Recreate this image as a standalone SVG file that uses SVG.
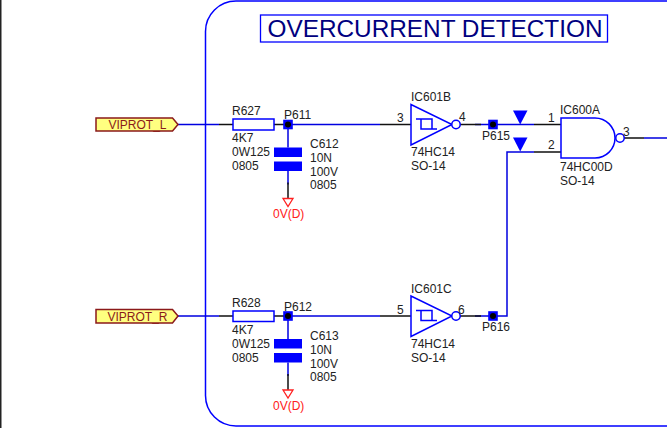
<svg xmlns="http://www.w3.org/2000/svg" width="667" height="428" viewBox="0 0 667 428">
<style>
text{font-family:"Liberation Sans",Arial,sans-serif;font-size:12px;fill:#222}
.w{fill:none;stroke:#0000e0;stroke-width:1.5}
.k{fill:none;stroke:#111;stroke-width:1.5}
.b{fill:#fff;stroke:#0000ff;stroke-width:1.5}
.f{fill:#0000ff;stroke:none}
.n{fill:none;stroke:#0000ff;stroke-width:1.5}
.hl{fill:#ffff80;stroke:#8b1a1a;stroke-width:1.5}
.ht{fill:#8b1a1a}
.r{fill:#ff2020}
.g{fill:#fff;stroke:#ff2020;stroke-width:1.3}
</style>
<defs>
<g id="junction"><rect class="f" x="-4.800" y="-4.800" width="9.600" height="9.600"/><circle r="3" fill="#000"/></g>
<path id="hyst" class="n" d="M-10-5.500H-5V4.500H11M-5-5.500H6V4.500"/>
<g id="cap"><path class="w" d="M0 0V23"/><rect class="f" x="-14" y="23" width="28" height="9.500"/><rect class="f" x="-14" y="37" width="28" height="9.500"/><path class="w" d="M0 46.500V60"/><path class="k" d="M0 58V74"/><path class="g" d="M-5 74H5L0 82Z"/></g>
</defs>
<rect id="border-left" x="0" y="0" width="1.500" height="428" fill="#222"/>
<g id="frame"><path class="n" d="M668 1H236A30.500 30.500 0 0 0 205.500 31.500V395.500A30.500 30.500 0 0 0 236 426H668"/></g>
<g id="title"><rect x="260.500" y="15" width="347" height="27" fill="#fff" stroke="#0000ff" stroke-width="1.300"/><text x="267.500" y="36.500" style="font-size:24px;fill:#000080" textLength="335" lengthAdjust="spacingAndGlyphs">OVERCURRENT DETECTION</text></g>
<g id="connectors">
<path class="w" d="M178 124.500H219M178 316H219M288 124.500H380M288 316H380M475 124.500H534M475 316H507V152H534M644 138H667"/>
<path class="k" d="M219 124.500H233M274 124.500H288M219 316H233M274 316H288M380 124.500H411M380 316H411M460 124.500H481M460 316H481M534 124.500H561M534 152H561M624 138H644"/>
</g>
<g id="VIPROT_L"><path class="hl" d="M96 118H172.500L178 124.500L172.500 131H96Z"/><text class="ht" x="108.500" y="129">VIPROT_L</text></g>
<g id="VIPROT_R"><path class="hl" d="M96 309.500H172.500L178 316L172.500 323H96Z"/><text class="ht" x="107.500" y="320.500">VIPROT_R</text></g>
<g id="R627"><rect class="b" x="233" y="119" width="41" height="11"/><text x="232" y="115">R627</text><text x="232" y="142">4K7</text><text x="232" y="156">0W125</text><text x="232" y="170">0805</text></g>
<g id="R628"><rect class="b" x="233" y="311" width="41" height="10.500"/><text x="232" y="307">R628</text><text x="232" y="334">4K7</text><text x="232" y="348">0W125</text><text x="232" y="362">0805</text></g>
<g id="C612"><use href="#cap" x="288" y="124.500"/><text x="310" y="148">C612</text><text x="310" y="162">10N</text><text x="310" y="175.500">100V</text><text x="310" y="189">0805</text><text class="r" x="273" y="218">0V(D)</text></g>
<g id="C613"><use href="#cap" x="288" y="316"/><text x="310" y="340">C613</text><text x="310" y="354">10N</text><text x="310" y="367.500">100V</text><text x="310" y="381">0805</text><text class="r" x="273" y="410">0V(D)</text></g>
<g id="P611"><use href="#junction" x="288" y="124.500"/><text x="284" y="118.500">P611</text></g>
<g id="P612"><use href="#junction" x="288" y="316"/><text x="284" y="311">P612</text></g>
<g id="IC601B"><path class="b" d="M411 104.500V145L452 124.500Z"/><circle class="b" cx="456" cy="124.500" r="4.200"/><use href="#hyst" x="426" y="124.500"/><text x="411" y="101">IC601B</text><text x="397" y="122">3</text><text x="459" y="121">4</text><text x="411" y="156">74HC14</text><text x="411" y="170">SO-14</text></g>
<g id="IC601C"><path class="b" d="M411 296V336.500L452 316Z"/><circle class="b" cx="456" cy="316" r="4.200"/><use href="#hyst" x="426" y="316"/><text x="411" y="293">IC601C</text><text x="397" y="314">5</text><text x="458" y="314">6</text><text x="411" y="348">74HC14</text><text x="411" y="362">SO-14</text></g>
<g id="P615"><use href="#junction" x="493" y="124.500"/><text x="482" y="140">P615</text></g>
<g id="P616"><use href="#junction" x="493" y="316"/><text x="482" y="331">P616</text></g>
<g id="T1"><path class="f" d="M513 110.500H527.500L520.200 124.500Z"/></g>
<g id="T2"><path class="f" d="M513 137.500H527.500L520.200 151.500Z"/></g>
<g id="IC600A"><path class="b" d="M561 118H595A20 20 0 0 1 595 158H561Z"/><circle class="b" cx="620" cy="138" r="4.200"/><text x="560" y="114">IC600A</text><text x="548" y="122">1</text><text x="548" y="149">2</text><text x="623" y="136">3</text><text x="560" y="171">74HC00D</text><text x="560" y="185">SO-14</text></g>
</svg>
